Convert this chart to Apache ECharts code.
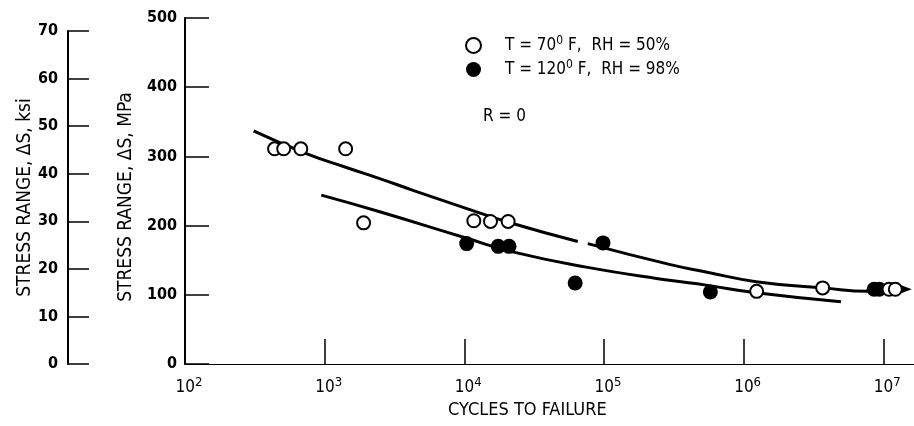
<!DOCTYPE html>
<html>
<head>
<meta charset="utf-8">
<script src="https://cdn.jsdelivr.net/npm/echarts@6/dist/echarts.min.js"></script>
<style>html,body{margin:0;padding:0;background:#fff}#c{width:914px;height:426px}</style>
</head>
<body>
<div id="c"></div>
<script>
// ---- data ----
const openN   = [438, 509, 675, 1413, 1900, 11700, 15400, 20600, 1240000, 3680000, 11000000, 12200000];
const openS   = [311, 311, 311, 311, 204, 207, 206, 206, 105, 110, 108, 108];
const filledN = [10400, 17500, 20900, 62200, 98400, 578000, 8600000, 9350000];
const filledS = [174, 170, 170, 117, 175, 104, 108, 108];
// fitted curve for T=70F (drawn in two pieces, second ends with run-out arrow)
const upper1N = [310, 740, 1430, 2480, 4290, 10300, 22200, 65000];
const upper1S = [337, 304, 284, 268, 251, 225, 203, 177];
const upper2N = [76600, 294000, 538000, 1230000, 3680000, 7940000, 14500000];
const upper2S = [174, 144, 133, 119, 110, 105, 108];
// fitted curve for T=120F
const lowerN  = [946, 2480, 10300, 22200, 74600, 294000, 538000, 1230000, 4980000];
const lowerS  = [244, 220, 182, 162, 140, 121, 114, 103, 90];
const mpaTicks = [0, 100, 200, 300, 400, 500];
const ksiTicks = [0, 10, 20, 30, 40, 50, 60, 70];
const name1 = 'T = 70° F, RH = 50%';
const name2 = 'T = 120° F, RH = 98%';

const FONT = "'Liberation Sans Narrow', 'DejaVu Sans Condensed', 'Arial Narrow', 'Liberation Sans', sans-serif";
const pairs = (a, b) => a.map((v, i) => [v, b[i]]);

const chart = echarts.init(document.getElementById('c'), null, {renderer: 'canvas'});
const upper2 = pairs(upper2N, upper2S).map((p, i, arr) => i === arr.length - 1
  ? {value: p, symbol: 'triangle', symbolSize: [9, 12], symbolRotate: -90, itemStyle: {color: '#000'}}
  : {value: p});

chart.setOption({
  animation: false,
  backgroundColor: '#fff',
  grid: [
    {left: 185, right: 0, top: 18, bottom: 62},
    {left: 68, width: 10, top: 31, bottom: 62}
  ],
  xAxis: [
    {
      type: 'log', logBase: 10, gridIndex: 0, min: 100, max: 16600000,
      axisLine: {lineStyle: {color: '#000', width: 1.2}},
      axisTick: {inside: true, length: 25, lineStyle: {color: '#000', width: 1.5}},
      splitLine: {show: false},
      axisLabel: {
        margin: 12, color: '#000', fontFamily: FONT, fontSize: 17, padding: [0, 0, 0, 8],
        showMaxLabel: false,
        formatter: v => {
          const e = Math.log10(v);
          if (Math.abs(e - Math.round(e)) > 1e-6) return '';
          return '{b|10}{s|' + Math.round(e) + '}';
        },
        rich: {
          b: {fontFamily: FONT, fontSize: 17, color: '#000'},
          s: {fontFamily: FONT, fontSize: 13, color: '#000', padding: [0, 0, 10, 0]}
        }
      }
    },
    {type: 'value', gridIndex: 1, show: false}
  ],
  yAxis: [
    {
      type: 'value', gridIndex: 0, min: mpaTicks[0], max: mpaTicks[mpaTicks.length - 1], interval: 100,
      name: 'STRESS RANGE, ΔS, MPa', nameLocation: 'middle', nameRotate: 90, nameGap: 36,
      nameTextStyle: {fontFamily: FONT, fontSize: 19, color: '#000', padding: [0, 12, 0, 0]},
      axisLine: {show: true, lineStyle: {color: '#000', width: 2}},
      axisTick: {show: true, inside: true, length: 24, lineStyle: {color: '#000', width: 1.5}},
      splitLine: {show: false},
      axisLabel: {margin: 8, color: '#000', fontFamily: FONT, fontSize: 16, fontWeight: 'bold'}
    },
    {
      type: 'value', gridIndex: 1, min: ksiTicks[0], max: ksiTicks[ksiTicks.length - 1], interval: 10,
      name: 'STRESS RANGE, ΔS, ksi', nameLocation: 'middle', nameRotate: 90, nameGap: 32,
      nameTextStyle: {fontFamily: FONT, fontSize: 19, color: '#000'},
      axisLine: {show: true, lineStyle: {color: '#000', width: 2}},
      axisTick: {show: true, inside: true, length: 21, lineStyle: {color: '#000', width: 1.5}},
      splitLine: {show: false},
      axisLabel: {margin: 10, color: '#000', fontFamily: FONT, fontSize: 16, fontWeight: 'bold'}
    }
  ],
  legend: {
    orient: 'vertical', left: 460, top: 30, itemWidth: 15, itemHeight: 15, itemGap: 5,
    data: [name1, name2], icon: 'circle',
    formatter: n => n === name1 ? 'T = 70{s|0} F,  RH = 50%' : 'T = 120{s|0} F,  RH = 98%',
    textStyle: {
      fontFamily: FONT, fontSize: 17, color: '#000', padding: [0, 0, 0, 19],
      rich: {s: {fontFamily: FONT, fontSize: 12, color: '#000', padding: [0, 0, 9, 0]}}
    }
  },
  graphic: [
    {type: 'text', left: 483, top: 108, style: {text: 'R = 0', font: '17px ' + FONT, fill: '#000'}},
    {type: 'text', left: 448, top: 401, style: {text: 'CYCLES TO FAILURE', font: '18px ' + FONT, fill: '#000'}}
  ],
  series: [
    {type: 'line', xAxisIndex: 0, yAxisIndex: 0, smooth: true, symbol: 'none', silent: true,
     lineStyle: {color: '#000', width: 3}, data: pairs(upper1N, upper1S), z: 2},
    {type: 'line', xAxisIndex: 0, yAxisIndex: 0, smooth: true, symbol: 'none', showSymbol: true, silent: true,
     lineStyle: {color: '#000', width: 3}, data: upper2, z: 2},
    {type: 'line', xAxisIndex: 0, yAxisIndex: 0, smooth: true, symbol: 'none', silent: true,
     lineStyle: {color: '#000', width: 3}, data: pairs(lowerN, lowerS), z: 2},
    {name: name1, type: 'scatter', xAxisIndex: 0, yAxisIndex: 0, symbol: 'circle', symbolSize: 13,
     itemStyle: {color: '#fff', borderColor: '#000', borderWidth: 2, opacity: 1},
     data: pairs(openN, openS), z: 4},
    {name: name2, type: 'scatter', xAxisIndex: 0, yAxisIndex: 0, symbol: 'circle', symbolSize: 15,
     itemStyle: {color: '#000', borderColor: '#000', borderWidth: 0, opacity: 1},
     data: pairs(filledN, filledS), z: 3}
  ]
});
</script>
</body>
</html>
